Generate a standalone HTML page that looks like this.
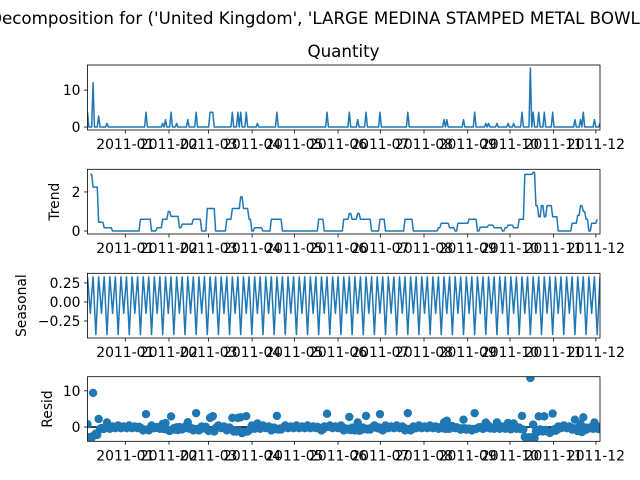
<!DOCTYPE html>
<html><head><meta charset="utf-8"><style>
html,body{margin:0;padding:0;background:#fff;width:640px;height:480px;overflow:hidden}
svg{display:block;font-family:"DejaVu Sans","Liberation Sans",sans-serif}
</style></head><body>
<svg id="chart" width="640" height="480" viewBox="0 0 640 480">
<text x="320" y="24" text-anchor="middle" font-size="16.7">Decomposition for ('United Kingdom', 'LARGE MEDINA STAMPED METAL BOWL')</text>
<text x="343.5" y="57" text-anchor="middle" font-size="16.7">Quantity</text>
</svg>
<script>
// ---- data ----
const N = 369;
const quantitySpikes = [[0,4],[4,12],[8,3],[14,1],[42,4],[54,1],[56,2],[60,4],[64,1],[72,2],[78,4],[88,4],[89,4],[90,4],[104,4],[108,4],[110,4],[114,4],[122,1],[136,4],[172,4],[188,4],[194,2],[200,4],[210,4],[230,4],[256,2],[258,2],[270,2],[278,4],[286,1],[288,1],[294,1],[302,1],[306,1],[312,4],[318,16],[320,4],[324,4],[328,4],[334,4],[350,2],[354,2],[356,4],[364,2],[368,1]];
const trendRuns = [[2,2.9],[4,2.25],[8,0.45],[12,0.17],[18,0],[38,0.6],[46,0],[50,0.17],[54,0.6],[58,1.0],[60,0.75],[66,0.17],[68,0.35],[76,0.6],[82,0],[86,1.15],[92,0],[100,0.6],[104,1.15],[110,1.75],[112,1.15],[116,0.6],[118,0],[120,0.17],[126,0],[132,0.6],[140,0],[166,0.6],[170,0],[184,0.6],[188,0.9],[190,0.6],[194,0.9],[196,0.6],[204,0],[210,0.6],[214,0],[228,0.6],[234,0],[252,0.17],[254,0.4],[260,0.17],[264,0],[266,0.4],[274,0.6],[280,0],[282,0.2],[288,0.3],[292,0.17],[298,0],[300,0.17],[302,0.3],[306,0.17],[310,0.6],[314,2.9],[320,3.0],[322,1.3],[324,0.73],[326,1.3],[328,0.73],[330,1.3],[334,0.73],[338,0],[348,0.4],[352,0.8],[354,1.3],[356,1.0],[358,0.6],[360,0],[362,0.4],[366,0.6]];
const trendEnd = 366;
const seasonalPattern = [0.33,0.1,-0.15,0.1,0.33,-0.05,-0.43,-0.05];
const monthTickDays = [0,31,59,90,120,151,181,212,243,273,304,334];
const monthTickLabels = ["2011-01","2011-02","2011-03","2011-04","2011-05","2011-06","2011-07","2011-08","2011-09","2011-10","2011-11","2011-12"];
const qTicks = [0,10], qTickLabels = ["0","10"];
const tTicks = [0,2], tTickLabels = ["0","2"];
const sTicks = [0.25,0,-0.25], sTickLabels = ["0.25","0.00","\u22120.25"];
const rTicks = [0,10], rTickLabels = ["0","10"];

// ---- series ----
const quantity = new Array(N).fill(0);
quantitySpikes.forEach(([i,v]) => { quantity[i] = v; });
const trend = new Array(N).fill(null);
for (let k = 0; k < trendRuns.length; k++) {
  const s = trendRuns[k][0];
  const e = k + 1 < trendRuns.length ? trendRuns[k+1][0] : trendEnd + 1;
  for (let i = s; i < e; i++) trend[i] = trendRuns[k][1];
}
const seasonal = [];
for (let i = 0; i < N; i++) seasonal.push(seasonalPattern[i % seasonalPattern.length]);
const resid = [];
for (let i = 0; i < N; i++) {
  let t = trend[i];
  if (t === null) t = i < trendRuns[0][0] ? trendRuns[0][1] : trendRuns[trendRuns.length-1][1];
  resid.push(quantity[i] - t - seasonal[i]);
}

// ---- layout ----
const svg = document.getElementById('chart');
const NS = 'http://www.w3.org/2000/svg';
const X0 = 87.5, X1 = 600;
const xi = i => X0 + (X1 - X0) * i / (N - 1);
const xd = d => 125.3 + d * 1.409;
function mk(tag, attrs, parent) {
  const e = document.createElementNS(NS, tag);
  for (const k in attrs) e.setAttribute(k, attrs[k]);
  (parent || svg).appendChild(e);
  return e;
}
const panels = [
  {key:'quantity', top:65, bot:130, ymin:-0.8, ymax:16.8, ticks:qTicks, labels:qTickLabels, ylabel:null},
  {key:'trend', top:169.3, bot:234, ymin:-0.153, ymax:3.16, ticks:tTicks, labels:tTickLabels, ylabel:'Trend', lx:59},
  {key:'seasonal', top:273.3, bot:338, ymin:-0.474, ymax:0.377, ticks:sTicks, labels:sTickLabels, ylabel:'Seasonal', lx:26},
  {key:'resid', top:376.7, bot:441.3, ymin:-3.95, ymax:13.9, ticks:rTicks, labels:rTickLabels, ylabel:'Resid', lx:52}
];
panels.forEach(p => {
  const y = v => p.bot - (v - p.ymin) / (p.ymax - p.ymin) * (p.bot - p.top);
  const g = mk('g', {});
  
  
  const clipId = 'clip-' + p.key;
  const cp = mk('clipPath', {id: clipId}, g);
  mk('rect', {x: X0, y: p.top, width: X1 - X0, height: p.bot - p.top}, cp);
  const plot = mk('g', {'clip-path': 'url(#' + clipId + ')'}, g);
  if (p.key === 'resid') {
    const zl = mk('line', {x1: X0, x2: X1, y1: y(0), y2: y(0), stroke: '#000', 'stroke-width': 1.5}, plot);
    
    
    resid.forEach((v, i) => {
      const c = mk('circle', {cx: xi(i), cy: y(v), r: 4.2, fill: '#1f77b4'}, plot);
      
      
    });
  } else {
    const series = p.key === 'quantity' ? quantity : p.key === 'trend' ? trend : seasonal;
    let d = '';
    series.forEach((v, i) => {
      if (v === null) return;
      d += (d ? 'L' : 'M') + xi(i).toFixed(2) + ',' + y(v).toFixed(2);
    });
    const path = mk('path', {d: d, fill: 'none', stroke: '#1f77b4', 'stroke-width': 1.5, 'stroke-linejoin': 'round'}, plot);
    
    
  }
  const frame = mk('rect', {x: X0, y: p.top, width: X1 - X0, height: p.bot - p.top, fill: 'none', stroke: '#000', 'stroke-width': 0.8}, g);
  
  
  p.ticks.forEach((t, k) => {
    const yy = y(t);
    mk('line', {x1: X0 - 3.5, x2: X0, y1: yy, y2: yy, stroke: '#000', 'stroke-width': 0.8}, g);
    const tx = mk('text', {x: X0 - 7, y: yy + 5, 'text-anchor': 'end', 'font-size': 13.9}, g);
    tx.textContent = p.labels[k];
    
    
  });
  monthTickDays.forEach((d, k) => {
    const xx = xd(d);
    mk('line', {x1: xx, x2: xx, y1: p.bot, y2: p.bot + 3.5, stroke: '#000', 'stroke-width': 0.8}, g);
    const tx = mk('text', {x: xx, y: p.bot + 19, 'text-anchor': 'middle', 'font-size': 13.9}, g);
    tx.textContent = monthTickLabels[k];
    
    
  });
  if (p.ylabel) {
    const cy = (p.top + p.bot) / 2;
    const yl = mk('text', {x: p.lx, y: cy, 'text-anchor': 'middle', 'font-size': 13.9, transform: 'rotate(-90 ' + p.lx + ' ' + cy + ')'}, g);
    yl.textContent = p.ylabel;
    
    
  }
});
</script>
</body></html>
